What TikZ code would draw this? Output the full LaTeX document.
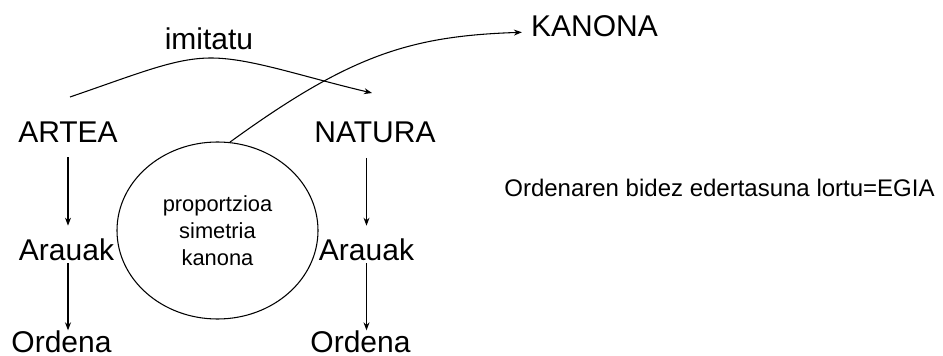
\documentclass[tikz,border=0pt]{standalone}
\usepackage{fontspec}
\setmainfont{Liberation Sans}
\usetikzlibrary{arrows.meta,shapes.geometric}

\tikzset{
    big/.style={font=\fontsize{22.5}{27}\selectfont, inner sep=0pt, text height=16.1pt, text depth=0pt},
    arr/.style={-{Stealth[length=6pt,width=4.5pt]}, line width=0.8pt},
}

\begin{document}
\begin{tikzpicture}[x=0.75pt, y=-0.75pt]
    \useasboundingbox (0, 0) rectangle (943, 356);

    \node[big] (artea) at (68, 131.5) {ARTEA};
    \node[big] (natura) at (375, 132) {NATURA};
    \node[big] (arauakL) at (66.5, 250) {Arauak};
    \node[big] (arauakR) at (366.5, 250) {Arauak};
    \node[big] (ordenaL) at (61.5, 342) {Ordena};
    \node[big] (ordenaR) at (360.5, 342) {Ordena};
    \node[big] (imitatu) at (209, 39) {imitatu};
    \node[big] (kanona) at (594.5, 26) {KANONA};

    \node[draw, ellipse, line width=0.8pt, minimum width=150.75pt, minimum height=132.75pt,
          inner sep=0pt, align=center, font=\fontsize{16.4}{20.25}\selectfont]
          (ovl) at (217.5, 230.5) {proportzioa\\simetria\\kanona};

    \node[font=\fontsize{18}{22}\selectfont, inner sep=0pt, text height=12.9pt, text depth=0pt]
          (egia) at (719.5, 187.5) {Ordenaren bidez edertasuna lortu=EGIA};

    % imitatu
    \coordinate (imstart) at (70, 97);
    \coordinate (imtop) at (211, 58);
    \coordinate (imend) at (372, 93);
    \draw[arr] (imstart) .. controls (140, 73) and (175, 58) .. (imtop)
        .. controls (250, 58) and (300, 76) .. (imend);

    % ovl -> KANONA
    \draw[arr, shorten >=6.75pt] (ovl.82) .. controls (350, 55) and (410, 36) .. ([yshift=-4.5pt]kanona.west);

    % down arrows
    \draw[arr, shorten <=11.25pt, shorten >=10pt] (artea.south) -- (artea.south |- arauakL.north);
    \draw[arr, shorten <=1.7pt, shorten >=0.5pt] (arauakL.south -| artea) -- (artea |- ordenaL.north);
    \draw[arr, shorten <=11.25pt, shorten >=10pt] (arauakR.north |- natura.south) -- (arauakR.north);
    \draw[arr, shorten <=1.7pt, shorten >=0.5pt] (arauakR.south) -- (arauakR.south |- ordenaR.north);

\end{tikzpicture}
\end{document}
